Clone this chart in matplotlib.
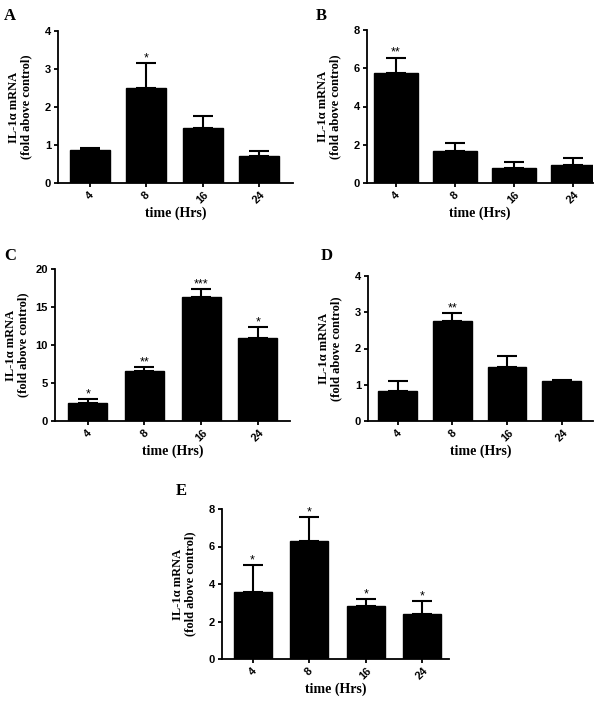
import matplotlib
matplotlib.use("Agg")
import matplotlib.pyplot as plt

# ---- data ----
time_labels = ["4", "8", "16", "24"]

A_mean = [0.87, 2.50, 1.44, 0.72]
A_err = [0.06, 0.66, 0.32, 0.12]
A_sig = ["", "*", "", ""]

B_mean = [5.76, 1.66, 0.79, 0.96]
B_err = [0.80, 0.42, 0.29, 0.33]
B_sig = ["**", "", "", ""]

C_mean = [2.38, 6.60, 16.25, 10.90]
C_err = [0.48, 0.50, 1.15, 1.45]
C_sig = ["*", "**", "***", "*"]

D_mean = [0.83, 2.76, 1.50, 1.10]
D_err = [0.28, 0.23, 0.29, 0.02]
D_sig = ["", "**", "", ""]

E_mean = [3.57, 6.30, 2.85, 2.38]
E_err = [1.46, 1.27, 0.35, 0.73]
E_sig = ["*", "*", "*", "*"]

ylabel_text = "IL-1\u03b1 mRNA\n(fold above control)"
xlabel_text = "time (Hrs)"

# ---- layout ----
W, H = 600, 701
fig = plt.figure(figsize=(W / 100, H / 100), dpi=100)

serif = "Liberation Serif"
sans = "Liberation Sans"

panels = [
    # letter, means, errs, sigs, ymax, yticks, (left, right, top, bottom) px, xlim, width, letter pos
    ("A", A_mean, A_err, A_sig, 4, [0, 1, 2, 3, 4], (58, 293, 31, 183), (-0.56, 3.6), 0.71, (4, 16)),
    ("B", B_mean, B_err, B_sig, 8, [0, 2, 4, 6, 8], (367, 593, 30, 183), (-0.49, 3.34), 0.74, (316, 16)),
    ("C", C_mean, C_err, C_sig, 20, [0, 5, 10, 15, 20], (55, 290, 269, 421), (-0.58, 3.57), 0.69, (4, 256)),
    ("D", D_mean, D_err, D_sig, 4, [0, 1, 2, 3, 4], (368, 593, 276, 421), (-0.54, 3.57), 0.71, (321, 256)),
    ("E", E_mean, E_err, E_sig, 8, [0, 2, 4, 6, 8], (222, 449, 509, 659), (-0.54, 3.47), 0.67, (176, 491)),
]

for letter, means, errs, sigs, ymax, yticks, (l, r, t, b), xlim, bw, (lx, ly) in panels:
    ax = fig.add_axes([l / W, 1 - b / H, (r - l) / W, (b - t) / H])
    x = list(range(len(time_labels)))
    ax.bar(x, means, width=bw, color="black", edgecolor="black", zorder=2)
    ax.errorbar(x, means, yerr=[[0] * len(errs), errs], fmt="none", ecolor="black",
                elinewidth=1.5, capsize=7, capthick=1.5, zorder=1)
    for xi, m, e, s in zip(x, means, errs, sigs):
        if s:
            ax.annotate(s, (xi, m + e), xytext=(0, 1.2), textcoords="offset points",
                        ha="center", va="baseline", fontsize=9, fontfamily=sans,
                        annotation_clip=False)
    ax.set_xlim(*xlim)
    ax.set_ylim(0, ymax)
    ax.set_yticks(yticks)
    ax.set_xticks(x)
    ax.set_xticklabels(time_labels, rotation=45, ha="center", va="top")
    for sp in ["top", "right"]:
        ax.spines[sp].set_visible(False)
    for sp in ["left", "bottom"]:
        ax.spines[sp].set_linewidth(1.3)
    ax.tick_params(axis="both", direction="out", length=3, width=1.3,
                   labelsize=8, pad=2)
    for lab in ax.get_xticklabels() + ax.get_yticklabels():
        lab.set_fontfamily(sans)
        lab.set_fontweight("bold")
    ax.set_ylabel(ylabel_text, fontfamily=serif, fontweight="bold", fontsize=9,
                  linespacing=1.1)
    ax.yaxis.label.set_va("center")
    ax.yaxis.set_label_coords(-38 / (r - l), 0.5)
    ax.set_xlabel(xlabel_text, fontfamily=serif, fontweight="bold", fontsize=10)
    ax.xaxis.set_label_coords(0.5, -30 / (b - t))
    ax.xaxis.label.set_va("center")
    fig.text(lx / W, 1 - ly / H, letter, fontfamily=serif, fontweight="bold",
             fontsize=12, ha="left", va="center")

fig.savefig("out.png", dpi=100)
